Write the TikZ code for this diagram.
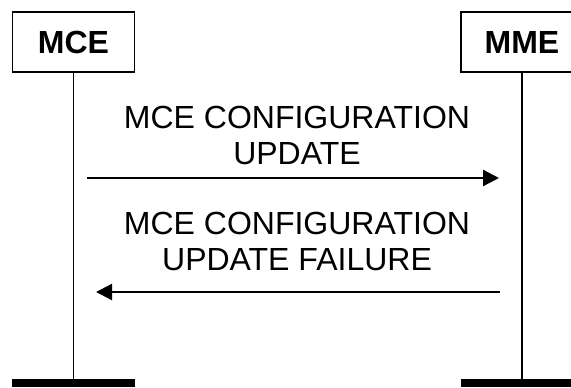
\documentclass[tikz,border=0pt]{standalone}
\usepackage{fontspec}
\setmainfont{Liberation Sans}
\usetikzlibrary{arrows.meta}
\begin{document}
\begin{tikzpicture}[x=0.75pt,y=-0.75pt,
  entity/.style={draw,line width=1.1pt,minimum width=91.5pt,minimum height=45pt,inner sep=0pt,font=\fontsize{24}{28}\selectfont\bfseries},
  life/.style={line width=1pt},
  msg/.style={line width=1.7pt,-{Triangle[length=12pt,width=12pt]}},
  lbl/.style={align=center,font=\fontsize{24}{27}\selectfont},
  bar/.style={fill=black}]
\useasboundingbox (0,0) rectangle (571,387);
\clip (0,0) rectangle (571,387);
\node[entity] (mce) at (73.5,42) {MCE};
\node[entity] (mme) at (522,42) {MME};
\coordinate (mceend) at (73.5,379);
\coordinate (mmeend) at (522,379);
\draw[life] (mce.south) -- (mceend);
\draw[life] (mme.south) -- (mmeend);
\fill[bar] (12,379) rectangle (135,387);
\fill[bar] (461,379) rectangle (583,387);
\coordinate (a1s) at (87,178);
\coordinate (a1e) at (499,178);
\draw[msg] (a1s) -- (a1e);
\node[lbl,anchor=base] (t1) at (297,164) {MCE CONFIGURATION\\UPDATE};
\coordinate (a2s) at (500,292);
\coordinate (a2e) at (96,292);
\draw[msg] (a2s) -- (a2e);
\node[lbl,anchor=base] (t2) at (297,270) {MCE CONFIGURATION\\UPDATE FAILURE};
\end{tikzpicture}
\end{document}
